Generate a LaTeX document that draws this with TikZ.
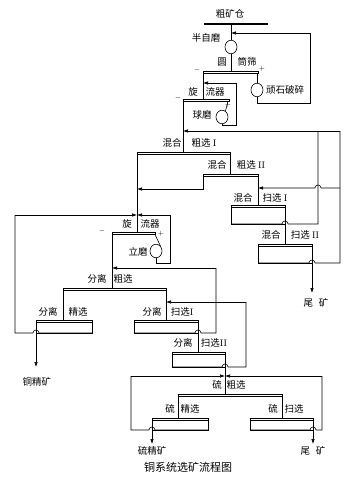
\documentclass[tikz,border=0pt]{standalone}
\usepackage{fontspec}
\newfontfamily\cjk{Noto Sans CJK SC}
\usetikzlibrary{arrows.meta,shapes.geometric}

\begin{document}
\begin{tikzpicture}[x=1pt, y=-1pt, line width=0.6pt,
  lbl/.style={font=\cjk\fontsize{9.5}{11}\selectfont, inner sep=0pt},
  sgn/.style={font=\scriptsize, inner sep=0pt},
  mill/.style={draw, ellipse, minimum width=12pt, minimum height=13.5pt, inner sep=0pt},
  flow/.style={-{Latex[length=5pt,width=3.5pt]}}]
  \useasboundingbox (0,0) rectangle (357,477);

  % grinding circuit
  \node[lbl] (bin) at (230,14) {粗矿仓};
  \draw[line width=1.2pt] (204,24) -- (268,24);
  \node[mill] (sag) at (231,47) {};
  \node[lbl] (sagL) at (206,38) {半自磨};
  \draw (231,24) -- (sag.north);
  \draw (sag.south) -- (231,71);
  \node[lbl] (scrA) at (222,62) {圆};
  \node[lbl] (scrB) at (247,62) {筒筛};
  \draw (203,71) rectangle (258,73.5);
  \node[sgn] (scrM) at (197,70) {$-$};
  \node[sgn] (scrP) at (262,69) {$+$};
  \node[mill] (crush) at (257,90) {};
  \node[lbl] (crushL) at (285,90) {顽石破碎};
  \draw (257,73.5) -- (crush.north);
  \draw[flow] (crush.south) |- (310,103) -- (310,33) -- (231,33);
  \draw (203,73.5) -- (203,99);
  \node[lbl] (cyA) at (193,92) {旋};
  \node[lbl] (cyB) at (215,92) {流器};
  \draw (183,99) rectangle (229,101.5);
  \node[sgn] (cyM) at (178,98) {$-$};
  \node[sgn] (cyP) at (228,105) {$+$};
  \node[mill] (ball) at (222,117) {};
  \node[lbl] (ballL) at (202,115) {球磨};
  \draw (228,101.5) -- (ball.60);
  \draw[flow] (ball.south) |- (236,125) -- (236,83) -- (203,83);
  \draw (183,101.5) -- (183,152);

  % bulk flotation
  \node[lbl] (r1A) at (172,143) {混合};
  \node[lbl] (r1B) at (204,143) {粗选 \textrm{I}};
  \draw (137,152) rectangle (230,154.5);
  \draw (230,154.5) -- (230,174);
  \node[lbl] (r2A) at (217,165) {混合};
  \node[lbl] (r2B) at (251,165) {粗选 \textrm{II}};
  \draw (203,174) rectangle (258,176.5);
  \draw[flow] (203,176.5) |- (137,189);
  \draw (258,176.5) -- (258,205);
  \node[lbl] (s1A) at (243,198) {混合};
  \node[lbl] (s1B) at (275,198) {扫选 \textrm{I}};
  \draw (231,205) rectangle (285,224);
  \draw (231,207.5) -- (285,207.5);
  \draw (285,224) -- (285,244);
  \draw (231,224) -- (282,224) arc[start angle=180, end angle=360, radius=3] -- (318,224) -- (318,131);
  \draw[flow] (340,188) -- (321,188) arc[start angle=0, end angle=-180, radius=3] -- (258,188);
  \node[lbl] (s2A) at (271,235) {混合};
  \node[lbl] (s2B) at (305,235) {扫选 \textrm{II}};
  \draw (258,244) rectangle (312,263);
  \draw (258,246.5) -- (312,246.5);
  \draw (258,263) -- (309,263) arc[start angle=180, end angle=360, radius=3] -- (340,263) -- (340,131);
  \draw[flow] (340,131) -- (183,131);
  \draw[flow] (312,263) -- (312,293);
  \node[lbl] (tail1) at (316,303) {尾\hspace{0.6em}矿};

  % copper-sulphur separation
  \draw (137,154.5) -- (137,232);
  \draw[flow] (15,215) -- (137,215);
  \draw[flow] (170,215) -- (137,215);
  \node[lbl] (cy2A) at (127,224) {旋};
  \node[lbl] (cy2B) at (150,224) {流器};
  \draw (112,232) rectangle (155,234.5);
  \node[sgn] (cy2M) at (102,231) {$-$};
  \node[sgn] (cy2P) at (161,234) {$+$};
  \node[mill] (vmill) at (156,251) {};
  \node[lbl] (vmillL) at (138,252) {立磨};
  \draw (155,234.5) -- (vmill.north east);
  \draw (vmill.south) |- (170,263) -- (170,215);
  \draw (112,234.5) -- (112,288);
  \draw[flow] (216,268) -- (112,268);
  \node[lbl] (sr1A) at (97,279) {分离};
  \node[lbl] (sr1B) at (123,279) {粗选};
  \draw (63,288) rectangle (166,290.5);
  \draw (63,290.5) -- (63,320);
  \draw (166,290.5) -- (166,320);
  \draw[flow] (246,302) -- (166,302);
  \node[lbl] (scA) at (48,312) {分离};
  \node[lbl] (scB) at (78,312) {精选};
  \draw (36,320) rectangle (92,333);
  \draw (36,322.5) -- (92,322.5);
  \draw (92,333) -- (39,333) arc[start angle=0, end angle=-180, radius=3] -- (15,333) -- (15,215);
  \draw[flow] (36,333) -- (36,367);
  \node[lbl] (cuconc) at (37,382) {铜精矿};
  \node[lbl] (ss1A) at (152,312) {分离};
  \node[lbl] (ss1B) at (182,312) {扫选\textrm{I}};
  \draw (134,320) rectangle (198,333);
  \draw (134,322.5) -- (198,322.5);
  \draw (198,333) -- (198,352);
  \draw (134,333) -- (195,333) arc[start angle=180, end angle=360, radius=3] -- (216,333) -- (216,268);
  \node[lbl] (ss2A) at (183,343) {分离};
  \node[lbl] (ss2B) at (214,343) {扫选\textrm{II}};
  \draw (172,352) rectangle (225,367);
  \draw (172,354.5) -- (225,354.5);
  \draw (172,367) -- (222,367) arc[start angle=180, end angle=360, radius=3] -- (246,367) -- (246,302);
  \draw (225,367) -- (225,394);

  % sulphur flotation
  \draw[flow] (131,376) -- (225,376);
  \draw[flow] (322,376) -- (225,376);
  \node[lbl] (srA) at (217,385) {硫};
  \node[lbl] (srB) at (236,385) {粗选};
  \draw (178,394) rectangle (282,396.5);
  \draw (178,396.5) -- (178,418);
  \draw (282,396.5) -- (282,418);
  \node[lbl] (scnA) at (170,409) {硫};
  \node[lbl] (scnB) at (190,409) {精选};
  \draw (152,418) rectangle (208,430);
  \draw (152,420.5) -- (208,420.5);
  \draw (208,430) -- (155,430) arc[start angle=0, end angle=-180, radius=3] -- (131,430) -- (131,376);
  \draw[flow] (152,430) -- (152,444);
  \node[lbl] (sconc) at (152,451) {硫精矿};
  \node[lbl] (sscA) at (273,409) {硫};
  \node[lbl] (sscB) at (294,409) {扫选};
  \draw (250,418) rectangle (313,430);
  \draw (250,420.5) -- (313,420.5);
  \draw (250,430) -- (310,430) arc[start angle=180, end angle=360, radius=3] -- (322,430) -- (322,376);
  \draw[flow] (313,430) -- (313,444);
  \node[lbl] (tail2) at (313,451) {尾\hspace{0.6em}矿};

  \node[font=\cjk\fontsize{11}{13}\selectfont, inner sep=0pt] (title) at (188,467) {铜系统选矿流程图};
\end{tikzpicture}
\end{document}
